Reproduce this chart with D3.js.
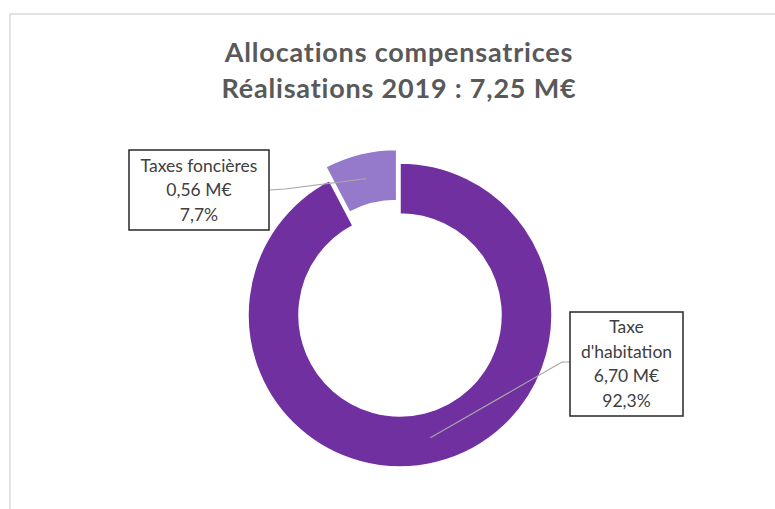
<!DOCTYPE html>
<html>
<head>
<meta charset="utf-8">
<script src="https://cdn.jsdelivr.net/npm/d3@7"></script>
<style>
  body { margin: 0; background: #fff; }
  svg { display: block; }
</style>
</head>
<body>
<script>
const width = 775;
const height = 509;

// data
const categories = ["Taxe d'habitation", "Taxes foncières"];
const values = [6.70, 0.56];
const labelLines = [["Taxe", "d'habitation", "6,70 M€", "92,3%"], ["Taxes foncières", "0,56 M€", "7,7%"]];
const colors = ["#7030a0", "#9579ca"];
const titleLines = ["Allocations compensatrices", "Réalisations 2019 : 7,25 M€"];

// layout
const cx = 400, cy = 315;
const outer_r = 152, inner_r = 101;
const explode = [0, 14];
// label boxes: x, y, w, h, and the elbow point of the leader line
const boxes = [
  {x: 570, y: 312, w: 113, h: 104, elbow: [562, 362], edge: [570, 362]},
  {x: 129, y: 150, w: 140, h: 80, elbow: [285, 189], edge: [269, 190]}
];
const line_h = 24.5;

const svg = d3.select("body").append("svg")
  .attr("width", width)
  .attr("height", height);

// chart frame
svg.append("rect")
  .attr("x", 10).attr("y", 14)
  .attr("width", 800).attr("height", 520)
  .attr("fill", "white")
  .attr("stroke", "#d9d9d9")
  .attr("stroke-width", 1.5);

// title
svg.append("text")
  .attr("text-anchor", "middle")
  .style("font-family", "Lato, sans-serif")
  .style("font-weight", "bold")
  .style("font-size", "27px")
  .style("letter-spacing", "0.8px")
  .attr("fill", "#595959")
  .selectAll("tspan")
  .data(titleLines)
  .join("tspan")
  .attr("x", 399)
  .attr("y", (d, i) => 62 + i * 36)
  .text(d => d);

const pie = d3.pie().sort(null).value(d => d);
const arcs = pie(values);
const arc = d3.arc().innerRadius(inner_r).outerRadius(outer_r);

const offset = (d, i) => {
  const a = (d.startAngle + d.endAngle) / 2;
  return [Math.sin(a) * explode[i], -Math.cos(a) * explode[i]];
};

const g = svg.append("g").attr("transform", `translate(${cx},${cy})`);

g.selectAll("path")
  .data(arcs)
  .join("path")
  .attr("transform", (d, i) => `translate(${offset(d, i)})`)
  .attr("d", arc)
  .attr("fill", (d, i) => colors[i])
  .attr("stroke", "white")
  .attr("stroke-width", 1.5);

// leader lines (from slice centroid to the label box)
arcs.forEach((d, i) => {
  const o = offset(d, i);
  const c = arc.centroid(d);
  const b = boxes[i];
  const pts = [[cx + c[0] + o[0], cy + c[1] + o[1]], b.elbow, b.edge];
  svg.append("path")
    .attr("d", d3.line()(pts))
    .attr("fill", "none")
    .attr("stroke", "#a6a6a6")
    .attr("stroke-width", 1.2);
});

// label boxes
boxes.forEach((b, i) => {
  svg.append("rect")
    .attr("x", b.x).attr("y", b.y)
    .attr("width", b.w).attr("height", b.h)
    .attr("fill", "white")
    .attr("stroke", "#262626")
    .attr("stroke-width", 1.5);

  const lines = labelLines[i];
  const top = b.y + b.h / 2 - (lines.length - 1) * line_h / 2;
  svg.append("text")
    .attr("text-anchor", "middle")
    .style("font-family", "Lato, sans-serif")
    .style("font-size", "17.5px")
    .attr("fill", "#404040")
    .selectAll("tspan")
    .data(lines)
    .join("tspan")
    .attr("x", b.x + b.w / 2)
    .attr("y", (d, j) => top + j * line_h)
    .attr("dy", "0.35em")
    .text(d => d);
});
</script>
</body>
</html>
